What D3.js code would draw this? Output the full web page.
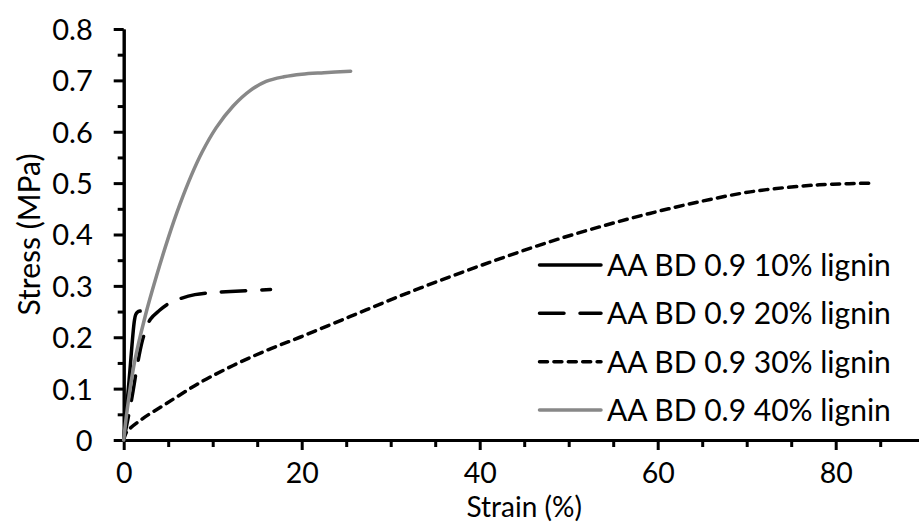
<!DOCTYPE html>
<html>
<head>
<meta charset="utf-8">
<script src="https://cdn.jsdelivr.net/npm/d3@7"></script>
<style>
  html, body { margin: 0; padding: 0; background: #fff; }
  svg { display: block; }
  text { font-family: Lato, "Open Sans", sans-serif; fill: #000; }
</style>
</head>
<body>
<svg id="chart" width="919" height="522"></svg>
<script>
// ---- data ----
const seriesNames = ["AA BD 0.9 10% lignin", "AA BD 0.9 20% lignin", "AA BD 0.9 30% lignin", "AA BD 0.9 40% lignin"];

const strain10 = [0, 0.6, 1.2, 1.35, 1.55, 1.85];
const stress10 = [0, 0.115, 0.232, 0.244, 0.249, 0.251];

const strain20 = [0, 0.6, 1.0, 1.64, 2.2, 3.0, 4.0, 5.0, 6.0, 8.0, 10.0, 12.0, 16.5];
const stress20 = [0, 0.052, 0.09, 0.156, 0.2, 0.235, 0.252, 0.265, 0.273, 0.283, 0.287, 0.289, 0.293];

const strain30 = [0, 0.3, 2.0, 4.8, 8.6, 12.3, 16.0, 19.8, 25.4, 31.0, 36.7, 42.3, 47.9, 53.5, 59.1, 64.75, 70.4, 76.0, 79.7, 84.0];
const stress30 = [0, 0.015, 0.04, 0.071, 0.112, 0.145, 0.174, 0.2, 0.24, 0.28, 0.318, 0.353, 0.386, 0.415, 0.441, 0.464, 0.483, 0.494, 0.498, 0.5];

const strain40 = [0, 0.4, 1.2, 2.4, 3.7, 5.0, 6.3, 7.6, 8.8, 10.4, 12.3, 14.2, 16.0, 18.0, 20.0, 22.5, 25.5];
const stress40 = [0, 0.06, 0.15, 0.24, 0.32, 0.393, 0.458, 0.515, 0.56, 0.608, 0.65, 0.68, 0.698, 0.707, 0.712, 0.715, 0.718];

const xMajorTicks = [0, 20, 40, 60, 80];
const xMinorTicks = [5, 10, 15, 25, 30, 35, 45, 50, 55, 65, 70, 75, 85, 90];
const yMajorTicks = [0, 0.1, 0.2, 0.3, 0.4, 0.5, 0.6, 0.7, 0.8];
const yMinorTicks = [0.05, 0.15, 0.25, 0.35, 0.45, 0.55, 0.65, 0.75];
const xTitle = "Strain (%)";
const yTitle = "Stress (MPa)";

// ---- layout ----
const svg = d3.select("#chart");
const x = d3.scaleLinear().domain([0, 90]).range([123.7, 924.7]);
const y = d3.scaleLinear().domain([0, 0.8]).range([440, 29]);

const styles = [
  { color: "#000", dash: null, cap: "round" },
  { color: "#000", dash: "24.5,16", cap: "round" },
  { color: "#000", dash: "8,6.4", cap: "round" },
  { color: "#888888", dash: null, cap: "round" }
];
const series = [
  d3.zip(strain10, stress10),
  d3.zip(strain20, stress20),
  d3.zip(strain30, stress30),
  d3.zip(strain40, stress40)
];

// axes
const yAxisMinor = d3.axisLeft(y).tickValues(yMinorTicks).tickSize(6).tickSizeOuter(0).tickFormat("");
const yAxis = d3.axisLeft(y).tickValues(yMajorTicks).tickSize(10).tickSizeOuter(0).tickPadding(21)
  .tickFormat(d => d === 0 ? "0" : d3.format(".1f")(d));
const xAxisMinor = d3.axisBottom(x).tickValues(xMinorTicks).tickSize(7).tickSizeOuter(0).tickFormat("");
const xAxis = d3.axisBottom(x).tickValues(xMajorTicks).tickSize(10).tickSizeOuter(0).tickFormat(d3.format("d"));

const gx = svg.append("g").attr("transform", `translate(0,${y(0)})`);
gx.append("g").call(xAxisMinor);
gx.append("g").call(xAxis);
const gy = svg.append("g").attr("transform", `translate(${x(0)},0)`);
gy.append("g").call(yAxisMinor);
gy.append("g").call(yAxis);

svg.selectAll(".domain").attr("stroke", "#000").attr("stroke-width", 3);
svg.selectAll(".tick line").attr("stroke", "#000").attr("stroke-width", 3);
gy.selectAll(".tick text").attr("font-size", 29).attr("font-family", "Lato").attr("dy", "0.36em");
gx.selectAll(".tick text").attr("font-size", 28.5).attr("font-family", "Lato").attr("y", 0).attr("dy", 43);

// lines
const line = d3.line().x(d => x(d[0])).y(d => y(d[1])).curve(d3.curveCatmullRom.alpha(0.5));
series.forEach((s, i) => {
  svg.append("path")
    .datum(s)
    .attr("d", line)
    .attr("fill", "none")
    .attr("stroke", styles[i].color)
    .attr("stroke-width", 3.5)
    .attr("stroke-linecap", styles[i].cap)
    .attr("stroke-linejoin", "round")
    .attr("stroke-dasharray", styles[i].dash);
});

// legend
const legY = [265, 313.3, 361.7, 410];
const leg = svg.append("g");
seriesNames.forEach((name, i) => {
  leg.append("line")
    .attr("x1", 539.5).attr("x2", 601)
    .attr("y1", legY[i]).attr("y2", legY[i])
    .attr("stroke", styles[i].color)
    .attr("stroke-width", 3.5)
    .attr("stroke-linecap", styles[i].cap)
    .attr("stroke-dasharray", styles[i].dash);
  leg.append("text")
    .attr("x", 607).attr("y", legY[i])
    .attr("dy", "0.36em")
    .attr("font-size", 30)
    .text(name);
});

// axis titles
svg.append("text")
  .attr("x", (x(0) + x(90)) / 2).attr("y", 516.5)
  .attr("text-anchor", "middle").attr("font-size", 28)
  .text(xTitle);
svg.append("text")
  .attr("transform", `translate(40,${(y(0) + y(0.8)) / 2}) rotate(-90)`)
  .attr("text-anchor", "middle").attr("font-size", 30)
  .text(yTitle);
</script>
</body>
</html>
